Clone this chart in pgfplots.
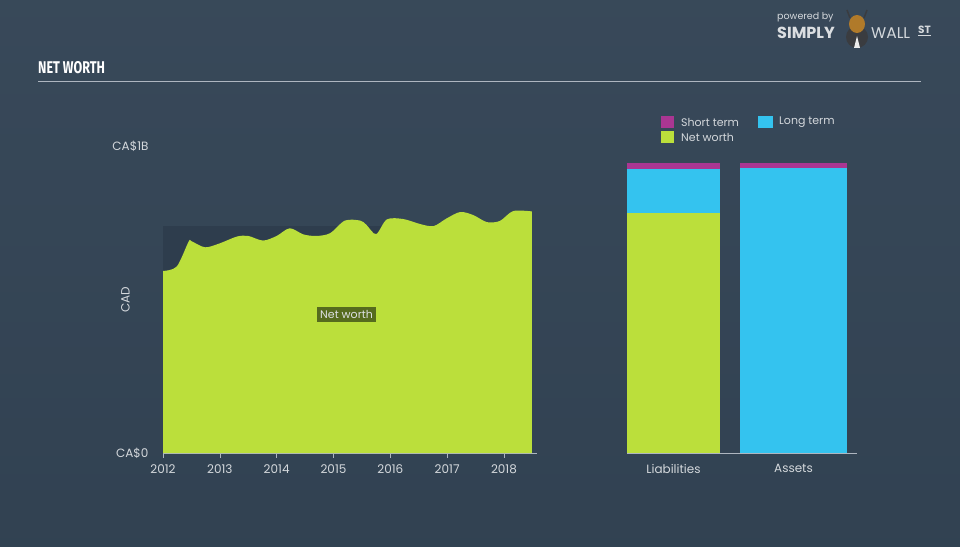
\documentclass[border=0pt]{standalone}
\usepackage{fontspec}
\usepackage{pgfplots}
\pgfplotsset{compat=1.18}
\setmainfont{Poppins}
\newfontfamily\titlefont{Fira Sans}
\definecolor{bg}{HTML}{344556}
\definecolor{band}{HTML}{2E3D4D}
\definecolor{nwgreen}{HTML}{BBDF3B}
\definecolor{ltblue}{HTML}{34C3EF}
\definecolor{stmag}{HTML}{AA3692}
\definecolor{lblgray}{HTML}{D4D8DC}
\definecolor{axgray}{HTML}{AEB6C0}
\definecolor{olive}{HTML}{566B1E}
\definecolor{bullhead}{HTML}{B07A2A}
\definecolor{suit}{HTML}{3A3C40}
\begin{document}
\begin{tikzpicture}[x=1pt,y=1pt]
% page and background
\useasboundingbox (0,0) rectangle (960,546);
\shade[top color=bg!98!white, bottom color=bg!95!black] (0,0) rectangle (960,546);

% title and rule
\node[anchor=west, text=white, inner sep=0] at (38,478)
  {\scalebox{0.74}[1]{\titlefont\bfseries\fontsize{17}{17}\selectfont NET WORTH}};
\draw[axgray, line width=1.6pt] (38,464.5) -- (921,464.5);

% logo
\node[anchor=west, text=lblgray, inner sep=0] at (777,529)
  {\fontsize{9.5}{10}\selectfont powered by};
\node[anchor=west, text=lblgray!85!white, inner sep=0] at (777,513)
  {\fontsize{16}{16}\selectfont\bfseries SIMPLY};
\fill[suit] (857,509) circle (11);
\fill[white!85!gray] (854,498) -- (857,510) -- (860,498) -- cycle;
\fill[bullhead] (857,522) ellipse (8 and 9);
\draw[suit, line width=1.5pt] (850,528) -- (847,536);
\draw[suit, line width=1.5pt] (864,528) -- (867,536);
\node[anchor=west, text=lblgray, inner sep=0] at (871,513)
  {\fontsize{15.5}{16}\selectfont WALL};
\node[anchor=west, text=lblgray, inner sep=0] at (918,515)
  {\fontsize{10.5}{11}\selectfont\bfseries\underline{ST}};

% left chart: net worth history
\begin{axis}[
    at={(163pt,93pt)}, anchor=south west,
    scale only axis, width=373.7pt, height=307pt,
    xmin=2012, xmax=2018.576, ymin=0, ymax=1,
    axis x line*=bottom, axis y line*=left,
    x axis line style={-, draw=axgray, line width=0.8pt},
    y axis line style={draw=none},
    xtick={2012,2013,2014,2015,2016,2017,2018},
    xticklabels={2012,2013,2014,2015,2016,2017,2018},
    ytick={0,1}, yticklabels={CA\$0,CA\$1B},
    tick align=outside, major tick length=5pt,
    x tick style={draw=axgray, line width=0.6pt},
    y tick style={draw=none},
    tick label style={text=lblgray, font=\fontsize{12}{14}\selectfont},
    xticklabel style={yshift=-3pt},
    yticklabel style={anchor=east, xshift=-6pt},
    clip=false,
]
\addplot[draw=none, fill=band] coordinates {(2012,0.74) (2018.5,0.74)} \closedcycle;
\addplot[draw=none, fill=nwgreen, smooth, tension=0.5] coordinates {
 (2012.00,0.593) (2012.24,0.607) (2012.45,0.688) (2012.50,0.690)
 (2012.74,0.670) (2013.00,0.683) (2013.30,0.705) (2013.50,0.707)
 (2013.76,0.692) (2014.00,0.707) (2014.23,0.732) (2014.47,0.712)
 (2014.70,0.707) (2014.94,0.716) (2015.20,0.757) (2015.47,0.757)
 (2015.58,0.743) (2015.75,0.713) (2015.94,0.761) (2016.23,0.762)
 (2016.52,0.746) (2016.76,0.739) (2016.99,0.764) (2017.23,0.785)
 (2017.46,0.775) (2017.70,0.752) (2017.93,0.756) (2018.16,0.788)
 (2018.49,0.787)} \closedcycle;
\node[fill=olive, text=lblgray!80!white, inner sep=3.5pt,
      font=\fontsize{11}{13}\selectfont] at (axis cs:2015.23,0.45) {Net worth};
\node[rotate=90, text=lblgray, font=\fontsize{12}{14}\selectfont]
      at (axis cs:2011.34,0.5) {CAD};
\end{axis}

% right chart: liabilities vs assets
\begin{axis}[
    at={(627pt,93pt)}, anchor=south west,
    scale only axis, width=230pt, height=307pt,
    xmin=627, xmax=857, ymin=0, ymax=1,
    axis x line*=bottom, axis y line=none,
    x axis line style={-, draw=axgray, line width=0.8pt},
    xtick={673.5,793.5}, xticklabels={Liabilities,Assets},
    major tick length=0pt,
    tick label style={text=lblgray, font=\fontsize{12}{14}\selectfont},
    xticklabel style={yshift=-8pt},
    ybar, bar shift=0pt,
    clip=false,
]
% cumulative heights, drawn back to front
\addplot[fill=stmag, draw=none, bar width=93] coordinates {(673.5,0.945)};
\addplot[fill=ltblue, draw=none, bar width=93] coordinates {(673.5,0.925)};
\addplot[fill=nwgreen, draw=none, bar width=93] coordinates {(673.5,0.782)};
\addplot[fill=stmag, draw=none, bar width=107] coordinates {(793.5,0.945)};
\addplot[fill=ltblue, draw=none, bar width=107] coordinates {(793.5,0.929)};
\end{axis}

% legend
\fill[stmag] (661,418) rectangle (674,430);
\node[anchor=west, text=lblgray, inner sep=0, font=\fontsize{11}{13}\selectfont] at (681,424) {Short term};
\fill[ltblue] (758,418) rectangle (773,430);
\node[anchor=west, text=lblgray, inner sep=0, font=\fontsize{11}{13}\selectfont] at (779,424) {Long term};
\fill[nwgreen] (661,403) rectangle (674,415);
\node[anchor=west, text=lblgray, inner sep=0, font=\fontsize{11}{13}\selectfont] at (681,409) {Net worth};
\end{tikzpicture}
\end{document}
